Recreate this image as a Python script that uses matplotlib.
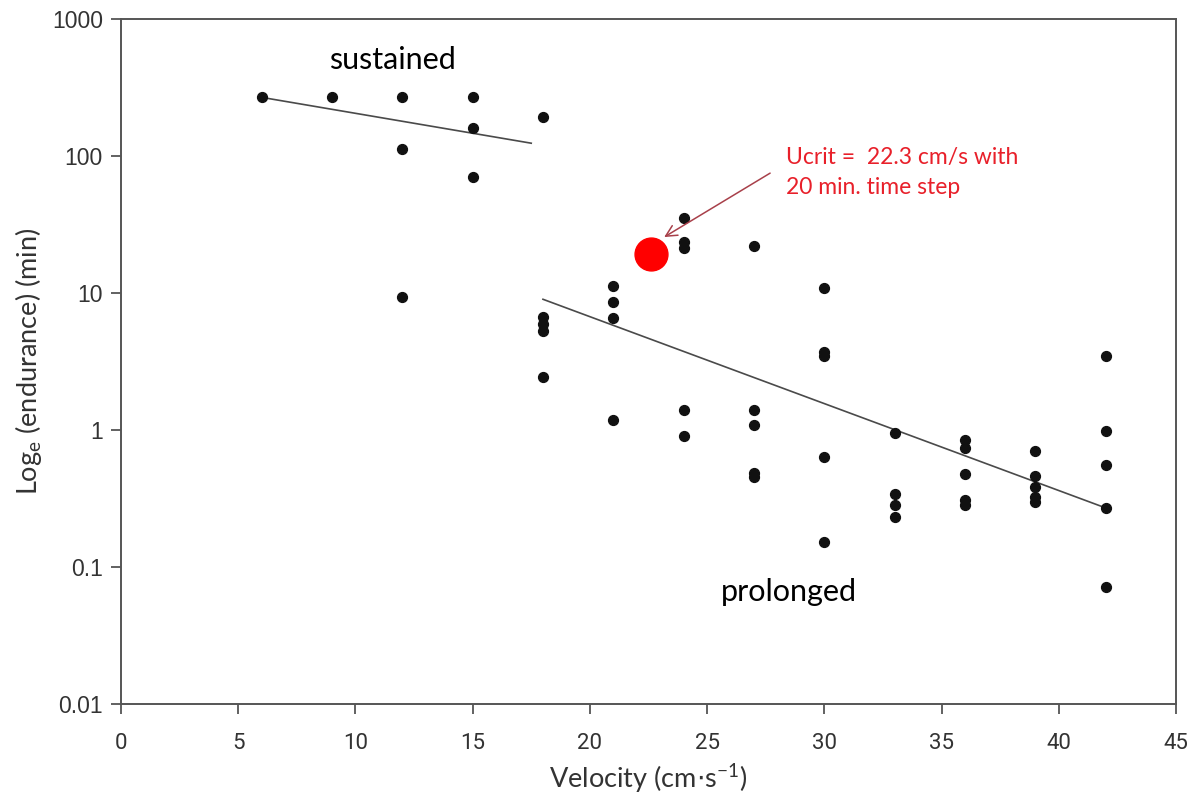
import matplotlib.pyplot as plt

# sustained swimming trials
sust_x = [6, 9, 12, 12, 12, 15, 15, 15, 18]
sust_y = [270, 270, 270, 112, 9.3, 270, 160, 70, 193]

# prolonged swimming trials
prol_x = [18, 18, 18, 18,
          21, 21, 21, 21,
          24, 24, 24, 24, 24,
          27, 27, 27, 27, 27,
          30, 30, 30, 30, 30,
          33, 33, 33, 33,
          36, 36, 36, 36, 36,
          39, 39, 39, 39, 39,
          42, 42, 42, 42, 42]
prol_y = [6.7, 5.9, 5.3, 2.44,
          11.2, 8.6, 6.6, 1.18,
          35, 23.6, 21.3, 1.40, 0.90,
          22.0, 1.40, 1.09, 0.485, 0.454,
          10.9, 3.7, 3.47, 0.635, 0.152,
          0.95, 0.341, 0.284, 0.232,
          0.845, 0.74, 0.478, 0.308, 0.284,
          0.70, 0.46, 0.384, 0.324, 0.298,
          3.47, 0.98, 0.556, 0.27, 0.0714]

# regression line end points
sust_fit_x = [6, 17.5]
sust_fit_y = [268, 124]
prol_fit_x = [18, 42]
prol_fit_y = [9.0, 0.27]

# critical swimming speed
ucrit_x = [22.6]
ucrit_y = [19.3]

xticks = [0, 5, 10, 15, 20, 25, 30, 35, 40, 45]
yticks = [0.01, 0.1, 1, 10, 100, 1000]
ytick_labels = ['0.01', '0.1', '1', '10', '100', '1000']

fig = plt.figure(figsize=(11.93, 8.02), dpi=100)
ax = fig.add_axes([0.1014, 0.1222, 0.8843, 0.8541])

ax.plot(sust_fit_x, sust_fit_y, color='#4a4a4a', lw=1.2, zorder=2)
ax.plot(prol_fit_x, prol_fit_y, color='#4a4a4a', lw=1.2, zorder=2)
ax.scatter(sust_x, sust_y, s=50, color='#111111', zorder=3)
ax.scatter(prol_x, prol_y, s=50, color='#111111', zorder=3)
ax.scatter(ucrit_x, ucrit_y, s=560, color='#ff0000', zorder=4)

ax.set_yscale('log')
ax.set_xlim(0, 45)
ax.set_ylim(0.01, 1000)
ax.set_xticks(xticks)
ax.set_xticklabels([str(t) for t in xticks], family='Roboto', fontsize=16)
ax.set_yticks(yticks)
ax.set_yticklabels(ytick_labels, family='Liberation Sans', fontsize=16.5)
ax.minorticks_off()
ax.tick_params(direction='out', length=7, width=1.3, color='#555555',
               labelcolor='#333333')
ax.tick_params(axis='y', pad=6)
ax.tick_params(axis='x', pad=14)
for sp in ax.spines.values():
    sp.set_color('#555555')
    sp.set_linewidth(1.4)

ax.set_xlabel(r'Velocity (cm$\cdot$s$^{\mathregular{-1}}$)', fontsize=19.5,
              family='Lato', color='#333333', labelpad=5)
ax.set_ylabel(r'Log$_{\mathregular{e}}$ (endurance) (min)', fontsize=19.5,
              family='Lato', color='#333333', labelpad=6)

ax.text(11.6, 500, 'sustained', fontsize=22, family='Lato', ha='center', va='center')
ax.text(28.5, 0.066, 'prolonged', fontsize=22, family='Lato', ha='center', va='center')

ax.text(28.37, 76, 'Ucrit =  22.3 cm/s with\n20 min. time step', fontsize=16.5,
        family='Lato', color='#e8202a', linespacing=1.5, ha='left', va='center')
ax.annotate('', xy=(23.17, 25.6), xytext=(27.69, 75),
            arrowprops=dict(arrowstyle='->', color='#a8404a', lw=1.1,
                            shrinkA=0, shrinkB=0, mutation_scale=20))

fig.savefig('out.png', dpi=100)
